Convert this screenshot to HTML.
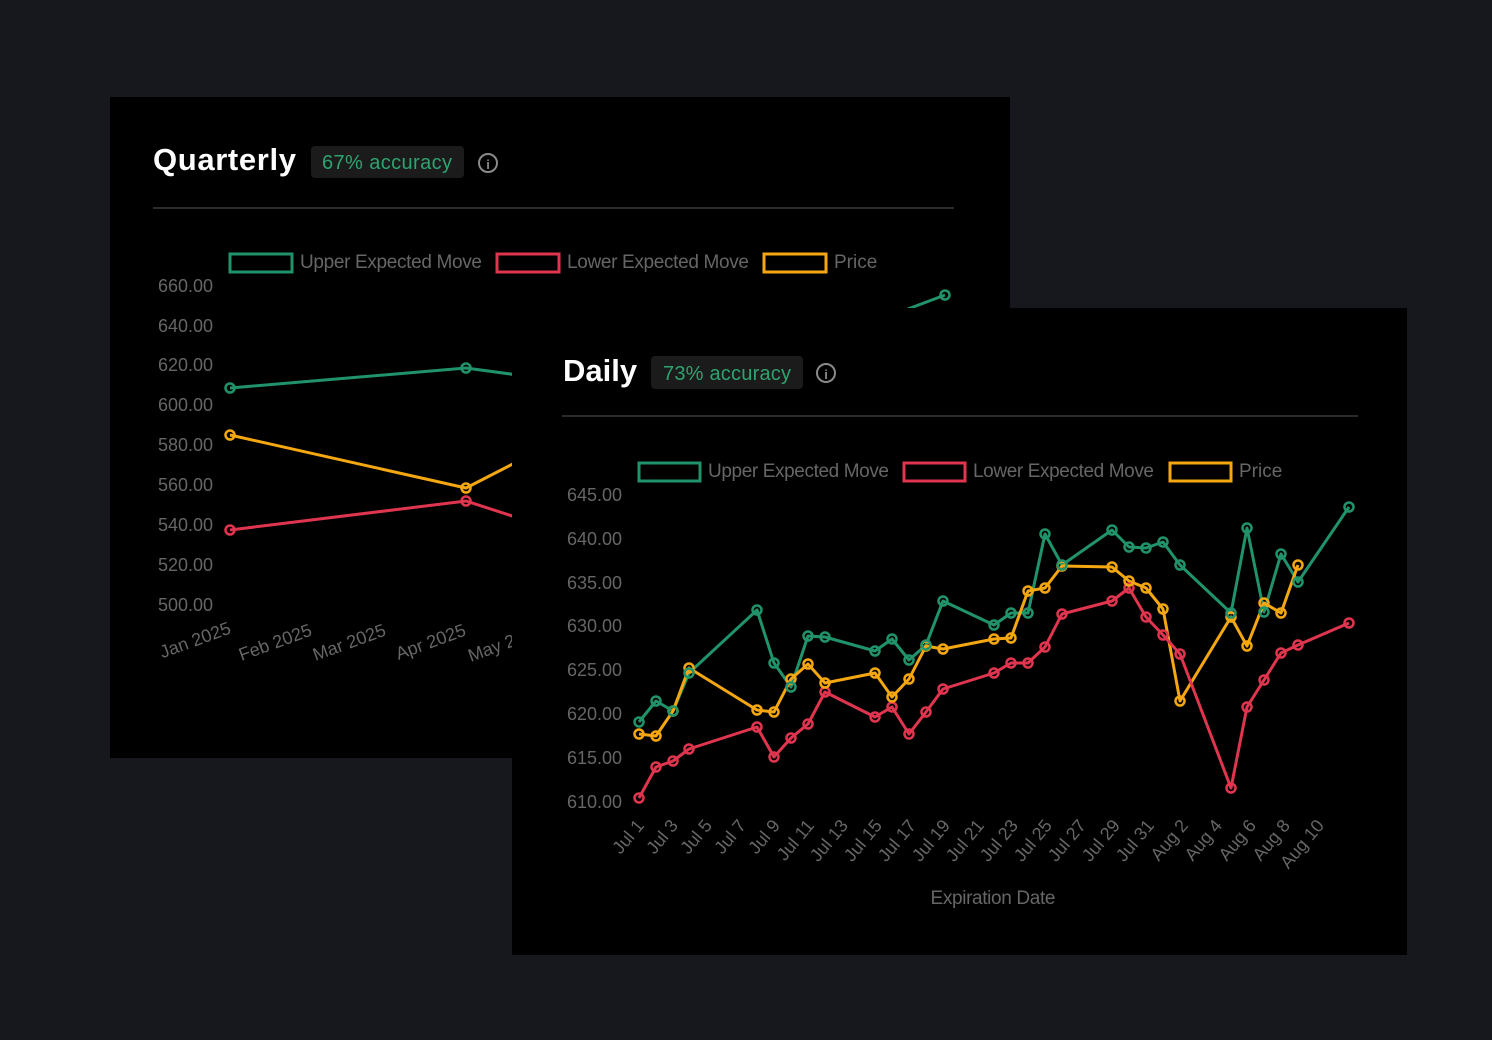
<!DOCTYPE html>
<html><head><meta charset="utf-8"><style>
html,body{margin:0;padding:0;background:#17181d;}
svg{display:block}
text{font-family:"Liberation Sans",sans-serif;}
</style></head><body>
<svg width="1492" height="1040" viewBox="0 0 1492 1040" xmlns="http://www.w3.org/2000/svg">
<rect width="1492" height="1040" fill="#17181d"/>
<!-- Quarterly panel -->
<rect x="110" y="97" width="900" height="661" fill="#000"/>
<text x="153" y="170" font-size="31" font-weight="bold" fill="#fff" textLength="143">Quarterly</text>
<rect x="311" y="146" width="153" height="32" rx="4" fill="#1b1b1b"/>
<text x="387" y="169" font-size="20" fill="#2fa36f" text-anchor="middle" textLength="130">67% accuracy</text>
<circle cx="488" cy="163" r="9" fill="none" stroke="#8a8a8a" stroke-width="2"/>
<text x="488" y="169" font-size="13" font-weight="bold" fill="#8a8a8a" text-anchor="middle">i</text>
<line x1="153" y1="208" x2="954" y2="208" stroke="#3a3a3a" stroke-width="1.5"/>
<rect x="230" y="254" width="62" height="18" fill="none" stroke="#21936a" stroke-width="3"/>
<text x="300" y="268" font-size="19" fill="#666" textLength="182">Upper Expected Move</text>
<rect x="497" y="254" width="62" height="18" fill="none" stroke="#e0354f" stroke-width="3"/>
<text x="567" y="268" font-size="19" fill="#666" textLength="182">Lower Expected Move</text>
<rect x="764" y="254" width="62" height="18" fill="none" stroke="#f5a712" stroke-width="3"/>
<text x="834" y="268" font-size="19" fill="#666">Price</text>
<g font-size="18" fill="#666" text-anchor="end">
<text x="213" y="292">660.00</text><text x="213" y="332">640.00</text><text x="213" y="371">620.00</text><text x="213" y="411">600.00</text><text x="213" y="451">580.00</text><text x="213" y="491">560.00</text><text x="213" y="531">540.00</text><text x="213" y="571">520.00</text><text x="213" y="611">500.00</text>
</g>
<g font-size="18" fill="#666" text-anchor="end">
<text transform="translate(232,633) rotate(-20)">Jan 2025</text>
<text transform="translate(313,635) rotate(-20)">Feb 2025</text>
<text transform="translate(387,635) rotate(-20)">Mar 2025</text>
<text transform="translate(467,635) rotate(-20)">Apr 2025</text>
<text transform="translate(545,635) rotate(-20)">May 2025</text>
</g>
<g fill="none" stroke-width="3">
<polyline points="230,388 466,368 540,378" stroke="#21936a"/>
<polyline points="230,435 466,488 540,450" stroke="#f5a712"/>
<polyline points="230,530 466,501 540,525" stroke="#e0354f"/>
<polyline points="900,312 945,295" stroke="#21936a"/>
</g>
<g fill="none" stroke-width="2.5">
<circle cx="230" cy="388" r="4.5" stroke="#21936a"/><circle cx="466" cy="368" r="4.5" stroke="#21936a"/>
<circle cx="230" cy="435" r="4.5" stroke="#f5a712"/><circle cx="466" cy="488" r="4.5" stroke="#f5a712"/>
<circle cx="230" cy="530" r="4.5" stroke="#e0354f"/><circle cx="466" cy="501" r="4.5" stroke="#e0354f"/>
<circle cx="945" cy="295" r="4.5" stroke="#21936a"/>
</g>
<!-- Daily panel -->
<rect x="512" y="308" width="895" height="647" fill="#000"/>
<text x="563" y="381" font-size="31" font-weight="bold" fill="#fff">Daily</text>
<rect x="651" y="356" width="152" height="33" rx="4" fill="#1b1b1b"/>
<text x="727" y="380" font-size="20" fill="#2fa36f" text-anchor="middle" textLength="128">73% accuracy</text>
<circle cx="826" cy="373" r="9" fill="none" stroke="#8a8a8a" stroke-width="2"/>
<text x="826" y="379" font-size="13" font-weight="bold" fill="#8a8a8a" text-anchor="middle">i</text>
<line x1="562" y1="416" x2="1358" y2="416" stroke="#3a3a3a" stroke-width="1.5"/>
<rect x="639" y="463" width="61" height="18" fill="none" stroke="#21936a" stroke-width="3"/>
<text x="708" y="477" font-size="19" fill="#666" textLength="181">Upper Expected Move</text>
<rect x="904" y="463" width="61" height="18" fill="none" stroke="#e0354f" stroke-width="3"/>
<text x="973" y="477" font-size="19" fill="#666" textLength="181">Lower Expected Move</text>
<rect x="1170" y="463" width="61" height="18" fill="none" stroke="#f5a712" stroke-width="3"/>
<text x="1239" y="477" font-size="19" fill="#666">Price</text>
<g font-size="18" fill="#666" text-anchor="end">
<text x="622" y="501">645.00</text><text x="622" y="545">640.00</text><text x="622" y="589">635.00</text><text x="622" y="632">630.00</text><text x="622" y="676">625.00</text><text x="622" y="720">620.00</text><text x="622" y="764">615.00</text><text x="622" y="808">610.00</text>
</g>
<g font-size="18" fill="#666" text-anchor="end">
<text transform="translate(645,826) rotate(-50)">Jul 1</text>
<text transform="translate(679,826) rotate(-50)">Jul 3</text>
<text transform="translate(713,826) rotate(-50)">Jul 5</text>
<text transform="translate(747,826) rotate(-50)">Jul 7</text>
<text transform="translate(781,826) rotate(-50)">Jul 9</text>
<text transform="translate(815,826) rotate(-50)">Jul 11</text>
<text transform="translate(849,826) rotate(-50)">Jul 13</text>
<text transform="translate(883,826) rotate(-50)">Jul 15</text>
<text transform="translate(917,826) rotate(-50)">Jul 17</text>
<text transform="translate(951,826) rotate(-50)">Jul 19</text>
<text transform="translate(985,826) rotate(-50)">Jul 21</text>
<text transform="translate(1019,826) rotate(-50)">Jul 23</text>
<text transform="translate(1053,826) rotate(-50)">Jul 25</text>
<text transform="translate(1087,826) rotate(-50)">Jul 27</text>
<text transform="translate(1121,826) rotate(-50)">Jul 29</text>
<text transform="translate(1155,826) rotate(-50)">Jul 31</text>
<text transform="translate(1189,826) rotate(-50)">Aug 2</text>
<text transform="translate(1223,826) rotate(-50)">Aug 4</text>
<text transform="translate(1257,826) rotate(-50)">Aug 6</text>
<text transform="translate(1291,826) rotate(-50)">Aug 8</text>
<text transform="translate(1325,826) rotate(-50)">Aug 10</text>
</g>
<text x="993" y="904" font-size="19" fill="#666" text-anchor="middle" textLength="125">Expiration Date</text>
<g fill="none" stroke-width="3" stroke-linejoin="round">
<polyline stroke="#21936a" points="639,722 656,701 673,711 689,673 757,610 774,663 791,687 808,636 825,637 875,651 892,639 909,660 926,645 943,601 994,625 1011,613 1028,613 1045,534 1062,565 1112,530 1129,547 1146,548 1163,542 1180,565 1231,613 1247,528 1264,612 1281,554 1298,582 1349,507"/>
<polyline stroke="#f5a712" points="639,734 656,736 673,711 689,668 757,710 774,712 791,679 808,664 825,683 875,673 892,697 909,679 926,646 943,649 994,639 1011,638 1028,591 1045,588 1062,566 1112,567 1129,581 1146,588 1163,609 1180,701 1231,617 1247,646 1264,603 1281,613 1298,565"/>
<polyline stroke="#e0354f" points="639,798 656,767 673,761 689,749 757,727 774,757 791,738 808,724 825,692 875,717 892,707 909,734 926,712 943,689 994,673 1011,663 1028,663 1045,647 1062,614 1112,601 1129,588 1146,617 1163,635 1180,654 1231,788 1247,707 1264,680 1281,653 1298,645 1349,623"/>
</g>
<g fill="none" stroke-width="2.5">
<g stroke="#e0354f">
<circle cx="639" cy="798" r="4.5"/><circle cx="656" cy="767" r="4.5"/><circle cx="673" cy="761" r="4.5"/><circle cx="689" cy="749" r="4.5"/><circle cx="757" cy="727" r="4.5"/><circle cx="774" cy="757" r="4.5"/><circle cx="791" cy="738" r="4.5"/><circle cx="808" cy="724" r="4.5"/><circle cx="825" cy="692" r="4.5"/><circle cx="875" cy="717" r="4.5"/><circle cx="892" cy="707" r="4.5"/><circle cx="909" cy="734" r="4.5"/><circle cx="926" cy="712" r="4.5"/><circle cx="943" cy="689" r="4.5"/><circle cx="994" cy="673" r="4.5"/><circle cx="1011" cy="663" r="4.5"/><circle cx="1028" cy="663" r="4.5"/><circle cx="1045" cy="647" r="4.5"/><circle cx="1062" cy="614" r="4.5"/><circle cx="1112" cy="601" r="4.5"/><circle cx="1129" cy="588" r="4.5"/><circle cx="1146" cy="617" r="4.5"/><circle cx="1163" cy="635" r="4.5"/><circle cx="1180" cy="654" r="4.5"/><circle cx="1231" cy="788" r="4.5"/><circle cx="1247" cy="707" r="4.5"/><circle cx="1264" cy="680" r="4.5"/><circle cx="1281" cy="653" r="4.5"/><circle cx="1298" cy="645" r="4.5"/><circle cx="1349" cy="623" r="4.5"/>
</g>
<g stroke="#f5a712">
<circle cx="639" cy="734" r="4.5"/><circle cx="656" cy="736" r="4.5"/><circle cx="673" cy="711" r="4.5"/><circle cx="689" cy="668" r="4.5"/><circle cx="757" cy="710" r="4.5"/><circle cx="774" cy="712" r="4.5"/><circle cx="791" cy="679" r="4.5"/><circle cx="808" cy="664" r="4.5"/><circle cx="825" cy="683" r="4.5"/><circle cx="875" cy="673" r="4.5"/><circle cx="892" cy="697" r="4.5"/><circle cx="909" cy="679" r="4.5"/><circle cx="926" cy="646" r="4.5"/><circle cx="943" cy="649" r="4.5"/><circle cx="994" cy="639" r="4.5"/><circle cx="1011" cy="638" r="4.5"/><circle cx="1028" cy="591" r="4.5"/><circle cx="1045" cy="588" r="4.5"/><circle cx="1062" cy="566" r="4.5"/><circle cx="1112" cy="567" r="4.5"/><circle cx="1129" cy="581" r="4.5"/><circle cx="1146" cy="588" r="4.5"/><circle cx="1163" cy="609" r="4.5"/><circle cx="1180" cy="701" r="4.5"/><circle cx="1231" cy="617" r="4.5"/><circle cx="1247" cy="646" r="4.5"/><circle cx="1264" cy="603" r="4.5"/><circle cx="1281" cy="613" r="4.5"/><circle cx="1298" cy="565" r="4.5"/>
</g>
<g stroke="#21936a">
<circle cx="639" cy="722" r="4.5"/><circle cx="656" cy="701" r="4.5"/><circle cx="673" cy="711" r="4.5"/><circle cx="689" cy="673" r="4.5"/><circle cx="757" cy="610" r="4.5"/><circle cx="774" cy="663" r="4.5"/><circle cx="791" cy="687" r="4.5"/><circle cx="808" cy="636" r="4.5"/><circle cx="825" cy="637" r="4.5"/><circle cx="875" cy="651" r="4.5"/><circle cx="892" cy="639" r="4.5"/><circle cx="909" cy="660" r="4.5"/><circle cx="926" cy="645" r="4.5"/><circle cx="943" cy="601" r="4.5"/><circle cx="994" cy="625" r="4.5"/><circle cx="1011" cy="613" r="4.5"/><circle cx="1028" cy="613" r="4.5"/><circle cx="1045" cy="534" r="4.5"/><circle cx="1062" cy="565" r="4.5"/><circle cx="1112" cy="530" r="4.5"/><circle cx="1129" cy="547" r="4.5"/><circle cx="1146" cy="548" r="4.5"/><circle cx="1163" cy="542" r="4.5"/><circle cx="1180" cy="565" r="4.5"/><circle cx="1231" cy="613" r="4.5"/><circle cx="1247" cy="528" r="4.5"/><circle cx="1264" cy="612" r="4.5"/><circle cx="1281" cy="554" r="4.5"/><circle cx="1298" cy="582" r="4.5"/><circle cx="1349" cy="507" r="4.5"/>
</g>
</g>
</svg>
</body></html>
